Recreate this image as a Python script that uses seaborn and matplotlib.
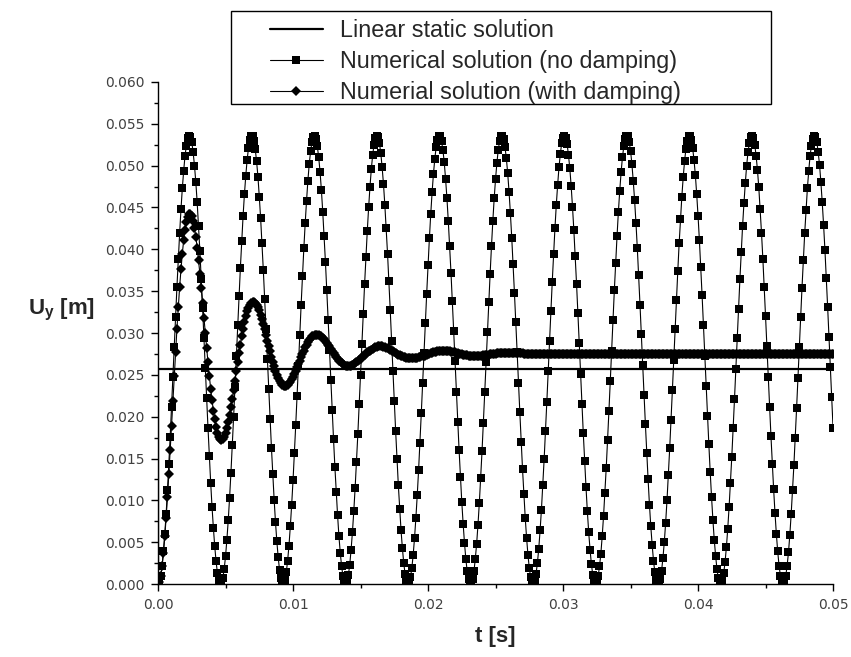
import numpy as np
import matplotlib
matplotlib.use("Agg")
import matplotlib.pyplot as plt
import seaborn as sns
from matplotlib.patches import Rectangle
from matplotlib.ticker import MultipleLocator

# solver output step [s]
dt = 0.0001

# linear static solution (step at t=0)
t_static = [0.0, 0.0, 0.05]
u_static = [0.0, 0.0257, 0.0257]

# numerical solution, no damping (one value per step)
u_no_damp = [
    0.0000, 0.0003, 0.0010, 0.0022, 0.0039, 0.0060, 0.0084, 0.0112, 0.0143, 0.0176,
    0.0211, 0.0247, 0.0283, 0.0319, 0.0355, 0.0388, 0.0419, 0.0448, 0.0473, 0.0494,
    0.0512, 0.0524, 0.0533, 0.0536, 0.0534, 0.0528, 0.0516, 0.0500, 0.0480, 0.0456,
    0.0428, 0.0398, 0.0365, 0.0330, 0.0294, 0.0258, 0.0222, 0.0187, 0.0153, 0.0121,
    0.0092, 0.0067, 0.0045, 0.0027, 0.0013, 0.0004,
    0.0000, 0.0001, 0.0007, 0.0018, 0.0033, 0.0053, 0.0076, 0.0103, 0.0133, 0.0166,
    0.0200, 0.0236, 0.0272, 0.0309, 0.0344, 0.0378, 0.0410, 0.0440, 0.0466, 0.0488,
    0.0507, 0.0521, 0.0531, 0.0535, 0.0535, 0.0530, 0.0520, 0.0505, 0.0487, 0.0463,
    0.0437, 0.0407, 0.0375, 0.0341, 0.0305, 0.0269, 0.0233, 0.0197, 0.0163, 0.0131,
    0.0101, 0.0074, 0.0051, 0.0032, 0.0017, 0.0007,
    0.0001, 0.0000, 0.0005, 0.0014, 0.0028, 0.0046, 0.0069, 0.0095, 0.0124, 0.0156,
    0.0190, 0.0225, 0.0261, 0.0298, 0.0334, 0.0368, 0.0401, 0.0431, 0.0458, 0.0482,
    0.0502, 0.0517, 0.0528, 0.0534, 0.0536, 0.0532, 0.0523, 0.0510, 0.0493, 0.0471,
    0.0445, 0.0416, 0.0385, 0.0351, 0.0316, 0.0280, 0.0244, 0.0208, 0.0173, 0.0140,
    0.0110, 0.0082, 0.0057, 0.0037, 0.0021, 0.0009,
    0.0002, 0.0000, 0.0003, 0.0011, 0.0023, 0.0041, 0.0062, 0.0087, 0.0115, 0.0146,
    0.0179, 0.0215, 0.0250, 0.0287, 0.0323, 0.0358, 0.0391, 0.0422, 0.0450, 0.0475,
    0.0496, 0.0513, 0.0525, 0.0533, 0.0536, 0.0534, 0.0527, 0.0515, 0.0498, 0.0478,
    0.0453, 0.0425, 0.0395, 0.0362, 0.0327, 0.0291, 0.0255, 0.0219, 0.0183, 0.0150,
    0.0118, 0.0090, 0.0064, 0.0043, 0.0025, 0.0012,
    0.0004, 0.0000, 0.0002, 0.0008, 0.0019, 0.0035, 0.0055, 0.0079, 0.0106, 0.0136,
    0.0169, 0.0204, 0.0240, 0.0276, 0.0312, 0.0347, 0.0381, 0.0413, 0.0442, 0.0468,
    0.0490, 0.0508, 0.0522, 0.0531, 0.0535, 0.0535, 0.0529, 0.0519, 0.0504, 0.0484,
    0.0461, 0.0434, 0.0404, 0.0372, 0.0338, 0.0302, 0.0266, 0.0229, 0.0194, 0.0160,
    0.0128, 0.0098, 0.0072, 0.0049, 0.0030, 0.0015,
    0.0006, 0.0001, 0.0001, 0.0006, 0.0015, 0.0030, 0.0048, 0.0071, 0.0097, 0.0127,
    0.0159, 0.0193, 0.0229, 0.0265, 0.0301, 0.0337, 0.0371, 0.0404, 0.0434, 0.0461,
    0.0484, 0.0503, 0.0519, 0.0529, 0.0535, 0.0536, 0.0532, 0.0522, 0.0509, 0.0491,
    0.0469, 0.0443, 0.0414, 0.0382, 0.0348, 0.0313, 0.0277, 0.0240, 0.0205, 0.0170,
    0.0137, 0.0107, 0.0079, 0.0055, 0.0035, 0.0019,
    0.0008, 0.0002, 0.0000, 0.0004, 0.0012, 0.0025, 0.0042, 0.0064, 0.0089, 0.0118,
    0.0149, 0.0183, 0.0218, 0.0254, 0.0290, 0.0326, 0.0361, 0.0394, 0.0425, 0.0453,
    0.0477, 0.0498, 0.0514, 0.0527, 0.0533, 0.0536, 0.0533, 0.0526, 0.0513, 0.0497,
    0.0476, 0.0451, 0.0423, 0.0392, 0.0359, 0.0324, 0.0288, 0.0251, 0.0215, 0.0180,
    0.0147, 0.0116, 0.0087, 0.0062, 0.0041, 0.0024,
    0.0011, 0.0003, 0.0000, 0.0002, 0.0009, 0.0021, 0.0036, 0.0057, 0.0081, 0.0109,
    0.0139, 0.0172, 0.0207, 0.0243, 0.0279, 0.0315, 0.0351, 0.0384, 0.0416, 0.0445,
    0.0470, 0.0492, 0.0510, 0.0523, 0.0532, 0.0536, 0.0535, 0.0528, 0.0518, 0.0502,
    0.0482, 0.0459, 0.0432, 0.0402, 0.0369, 0.0334, 0.0299, 0.0262, 0.0226, 0.0191,
    0.0157, 0.0125, 0.0095, 0.0069, 0.0047, 0.0028,
    0.0014, 0.0005, 0.0000, 0.0001, 0.0006, 0.0016, 0.0031, 0.0050, 0.0073, 0.0100,
    0.0130, 0.0162, 0.0196, 0.0232, 0.0268, 0.0305, 0.0340, 0.0374, 0.0407, 0.0436,
    0.0463, 0.0486, 0.0505, 0.0520, 0.0530, 0.0535, 0.0536, 0.0531, 0.0521, 0.0507,
    0.0489, 0.0466, 0.0440, 0.0411, 0.0379, 0.0345, 0.0309, 0.0273, 0.0237, 0.0201,
    0.0167, 0.0134, 0.0104, 0.0077, 0.0053, 0.0034,
    0.0018, 0.0007, 0.0001, 0.0000, 0.0004, 0.0013, 0.0026, 0.0044, 0.0066, 0.0092,
    0.0121, 0.0152, 0.0186, 0.0221, 0.0257, 0.0294, 0.0329, 0.0364, 0.0397, 0.0428,
    0.0455, 0.0479, 0.0500, 0.0516, 0.0527, 0.0534, 0.0536, 0.0533, 0.0525, 0.0512,
    0.0495, 0.0474, 0.0448, 0.0420, 0.0389, 0.0355, 0.0320, 0.0284, 0.0248, 0.0212,
    0.0177, 0.0144, 0.0113, 0.0085, 0.0060, 0.0039,
    0.0022, 0.0010, 0.0003, 0.0000, 0.0003, 0.0010, 0.0022, 0.0038, 0.0059, 0.0084,
    0.0112, 0.0142, 0.0175, 0.0210, 0.0246, 0.0283, 0.0319, 0.0354, 0.0387, 0.0419,
    0.0447, 0.0473, 0.0494, 0.0512, 0.0524, 0.0532, 0.0536, 0.0534, 0.0528, 0.0516,
    0.0501, 0.0480, 0.0456, 0.0429, 0.0399, 0.0366, 0.0331, 0.0295, 0.0259, 0.0223,
    0.0187,
]

# numerical solution, with damping
u_damp = [
    0.0000, 0.0002, 0.0010, 0.0021, 0.0037, 0.0057, 0.0079, 0.0104, 0.0131, 0.0160,
    0.0189, 0.0219, 0.0249, 0.0277, 0.0305, 0.0331, 0.0355, 0.0376, 0.0395, 0.0411,
    0.0423, 0.0433, 0.0439, 0.0442, 0.0442, 0.0440, 0.0434, 0.0425, 0.0415, 0.0402,
    0.0387, 0.0371, 0.0354, 0.0336, 0.0318, 0.0300, 0.0282, 0.0265, 0.0249, 0.0233,
    0.0220, 0.0207, 0.0197, 0.0188, 0.0181, 0.0176, 0.0173, 0.0172, 0.0173, 0.0176,
    0.0181, 0.0186, 0.0194, 0.0202, 0.0211, 0.0221, 0.0232, 0.0243, 0.0254, 0.0265,
    0.0276, 0.0286, 0.0296, 0.0305, 0.0313, 0.0320, 0.0326, 0.0330, 0.0334, 0.0336,
    0.0337, 0.0337, 0.0336, 0.0334, 0.0331, 0.0327, 0.0322, 0.0317, 0.0311, 0.0305,
    0.0298, 0.0291, 0.0284, 0.0278, 0.0271, 0.0265, 0.0260, 0.0254, 0.0250, 0.0246,
    0.0243, 0.0240, 0.0238, 0.0237, 0.0237, 0.0237, 0.0238, 0.0240, 0.0242, 0.0245,
    0.0248, 0.0251, 0.0255, 0.0259, 0.0263, 0.0267, 0.0271, 0.0275, 0.0279, 0.0283,
    0.0286, 0.0289, 0.0292, 0.0294, 0.0296, 0.0297, 0.0298, 0.0298, 0.0298, 0.0298,
    0.0297, 0.0296, 0.0294, 0.0293, 0.0291, 0.0288, 0.0286, 0.0284, 0.0281, 0.0278,
    0.0276, 0.0274, 0.0271, 0.0269, 0.0267, 0.0266, 0.0264, 0.0263, 0.0262, 0.0261,
    0.0261, 0.0261, 0.0261, 0.0261, 0.0262, 0.0263, 0.0264, 0.0265, 0.0266, 0.0268,
    0.0269, 0.0271, 0.0272, 0.0274, 0.0275, 0.0277, 0.0278, 0.0279, 0.0280, 0.0281,
    0.0282, 0.0283, 0.0283, 0.0284, 0.0284, 0.0284, 0.0284, 0.0283, 0.0283, 0.0282,
    0.0282, 0.0281, 0.0280, 0.0279, 0.0278, 0.0277, 0.0276, 0.0275, 0.0274, 0.0274,
    0.0273, 0.0272, 0.0271, 0.0271, 0.0270, 0.0270, 0.0270, 0.0270, 0.0270, 0.0270,
    0.0270, 0.0270, 0.0270, 0.0271, 0.0271, 0.0272, 0.0272, 0.0273, 0.0273, 0.0274,
    0.0275, 0.0275, 0.0276, 0.0276, 0.0277, 0.0277, 0.0277, 0.0278, 0.0278, 0.0278,
    0.0278, 0.0278, 0.0278, 0.0278, 0.0278, 0.0278, 0.0278, 0.0277, 0.0277, 0.0277,
    0.0277, 0.0276, 0.0276, 0.0275, 0.0275, 0.0275, 0.0274, 0.0274, 0.0274, 0.0274,
    0.0273, 0.0273, 0.0273, 0.0273, 0.0273, 0.0273, 0.0273, 0.0273, 0.0273, 0.0273,
    0.0273, 0.0274, 0.0274, 0.0274, 0.0274, 0.0274, 0.0275, 0.0275, 0.0275, 0.0275,
    0.0275, 0.0276, 0.0276, 0.0276, 0.0276, 0.0276, 0.0276, 0.0276, 0.0276, 0.0276,
    0.0276, 0.0276, 0.0276, 0.0276, 0.0276, 0.0276, 0.0276, 0.0276, 0.0276, 0.0276,
    0.0276, 0.0275, 0.0275, 0.0275, 0.0275, 0.0275, 0.0275, 0.0275, 0.0275, 0.0275,
    0.0275, 0.0275, 0.0275, 0.0275, 0.0275, 0.0275, 0.0275, 0.0275, 0.0275, 0.0275,
    0.0275, 0.0275, 0.0275, 0.0275, 0.0275, 0.0275, 0.0275, 0.0275, 0.0275, 0.0275,
    0.0275, 0.0275, 0.0275, 0.0275, 0.0275, 0.0275, 0.0275, 0.0275, 0.0275, 0.0275,
    0.0275, 0.0275, 0.0275, 0.0275, 0.0275, 0.0275, 0.0275, 0.0275, 0.0275, 0.0275,
    0.0275, 0.0275, 0.0275, 0.0275, 0.0275, 0.0275, 0.0275, 0.0275, 0.0275, 0.0275,
    0.0275, 0.0275, 0.0275, 0.0275, 0.0275, 0.0275, 0.0275, 0.0275, 0.0275, 0.0275,
    0.0275, 0.0275, 0.0275, 0.0275, 0.0275, 0.0275, 0.0275, 0.0275, 0.0275, 0.0275,
    0.0275, 0.0275, 0.0275, 0.0275, 0.0275, 0.0275, 0.0275, 0.0275, 0.0275, 0.0275,
    0.0275, 0.0275, 0.0275, 0.0275, 0.0275, 0.0275, 0.0275, 0.0275, 0.0275, 0.0275,
    0.0275, 0.0275, 0.0275, 0.0275, 0.0275, 0.0275, 0.0275, 0.0275, 0.0275, 0.0275,
    0.0275, 0.0275, 0.0275, 0.0275, 0.0275, 0.0275, 0.0275, 0.0275, 0.0275, 0.0275,
    0.0275, 0.0275, 0.0275, 0.0275, 0.0275, 0.0275, 0.0275, 0.0275, 0.0275, 0.0275,
    0.0275, 0.0275, 0.0275, 0.0275, 0.0275, 0.0275, 0.0275, 0.0275, 0.0275, 0.0275,
    0.0275, 0.0275, 0.0275, 0.0275, 0.0275, 0.0275, 0.0275, 0.0275, 0.0275, 0.0275,
    0.0275, 0.0275, 0.0275, 0.0275, 0.0275, 0.0275, 0.0275, 0.0275, 0.0275, 0.0275,
    0.0275, 0.0275, 0.0275, 0.0275, 0.0275, 0.0275, 0.0275, 0.0275, 0.0275, 0.0275,
    0.0275, 0.0275, 0.0275, 0.0275, 0.0275, 0.0275, 0.0275, 0.0275, 0.0275, 0.0275,
    0.0275, 0.0275, 0.0275, 0.0275, 0.0275, 0.0275, 0.0275, 0.0275, 0.0275, 0.0275,
    0.0275, 0.0275, 0.0275, 0.0275, 0.0275, 0.0275, 0.0275, 0.0275, 0.0275, 0.0275,
    0.0275, 0.0275, 0.0275, 0.0275, 0.0275, 0.0275, 0.0275, 0.0275, 0.0275, 0.0275,
    0.0275, 0.0275, 0.0275, 0.0275, 0.0275, 0.0275, 0.0275, 0.0275, 0.0275, 0.0275,
    0.0275, 0.0275, 0.0275, 0.0275, 0.0275, 0.0275, 0.0275, 0.0275, 0.0275, 0.0275,
    0.0275,
]

labels = ["Linear static solution",
          "Numerical solution (no damping)",
          "Numerial solution (with damping)"]

x_ticks = [0.0, 0.01, 0.02, 0.03, 0.04, 0.05]
x_ticklabels = ["0.00", "0.01", "0.02", "0.03", "0.04", "0.05"]
y_ticks = [0.0, 0.005, 0.01, 0.015, 0.02, 0.025, 0.03, 0.035, 0.04, 0.045, 0.05, 0.055, 0.06]
y_ticklabels = ["0.000", "0.005", "0.010", "0.015", "0.020", "0.025", "0.030",
                "0.035", "0.040", "0.045", "0.050", "0.055", "0.060"]

t_no_damp = np.arange(len(u_no_damp)) * dt
t_damp = np.arange(len(u_damp)) * dt

sns.set_theme(style="ticks")
plt.rcParams["font.family"] = ["Liberation Sans", "DejaVu Sans"]

fig = plt.figure(figsize=(8.51, 6.57), dpi=100)
ax = fig.add_axes([0.1857, 0.1111, 0.7932, 0.7641])

sns.lineplot(x=t_static, y=u_static, ax=ax, color="black", linewidth=1.6,
             sort=False, estimator=None, label=labels[0])
sns.lineplot(x=t_no_damp, y=u_no_damp, ax=ax, color="black", linewidth=0.8,
             marker="s", markersize=5.6, markeredgewidth=0, sort=False,
             estimator=None, label=labels[1])
sns.lineplot(x=t_damp, y=u_damp, ax=ax, color="black", linewidth=0.8,
             marker="D", markersize=5.4, markeredgewidth=0, sort=False,
             estimator=None, label=labels[2])

handles, lbls = ax.get_legend_handles_labels()
if ax.get_legend() is not None:
    ax.get_legend().remove()

ax.set_xlim(0, 0.05)
ax.set_ylim(0, 0.06)
ax.set_xticks(x_ticks)
ax.set_xticklabels(x_ticklabels, fontfamily="DejaVu Sans", fontsize=10, color="#404040")
ax.set_yticks(y_ticks)
ax.set_yticklabels(y_ticklabels, fontfamily="DejaVu Sans", fontsize=10, color="#404040")
ax.xaxis.set_minor_locator(MultipleLocator(0.005))
ax.yaxis.set_minor_locator(MultipleLocator(0.0025))
ax.tick_params(which="major", direction="out", length=5, width=1, color="black", pad=5)
ax.tick_params(which="minor", direction="out", length=3, width=1, color="black")
sns.despine(ax=ax)
for side in ["left", "bottom"]:
    ax.spines[side].set_color("black")
    ax.spines[side].set_linewidth(1.0)

ax.set_xlabel("t [s]", fontsize=16, fontweight="bold", labelpad=10)
ax.set_ylabel(r"U$_\mathregular{y}$ [m]", fontsize=16, fontweight="bold",
              rotation=0, ha="center", va="center")
ax.yaxis.set_label_coords(-0.143, 0.545)

# legend: framed box at the top, extending above the plot area
box = Rectangle((231 / 851, 1 - 104 / 657), 540 / 851, 93 / 657,
                transform=fig.transFigure, facecolor="white",
                edgecolor="black", linewidth=1.0, zorder=5)
fig.patches.append(box)
leg = fig.legend(handles, lbls, loc="upper left",
                 bbox_to_anchor=(270 / 851, 1 - 19 / 657),
                 frameon=False, fontsize=16.8, borderpad=0, borderaxespad=0,
                 handlelength=2.25, handletextpad=0.75, labelspacing=0.34,
                 numpoints=1)
leg.set_zorder(6)

fig.savefig("out.png", dpi=100)
